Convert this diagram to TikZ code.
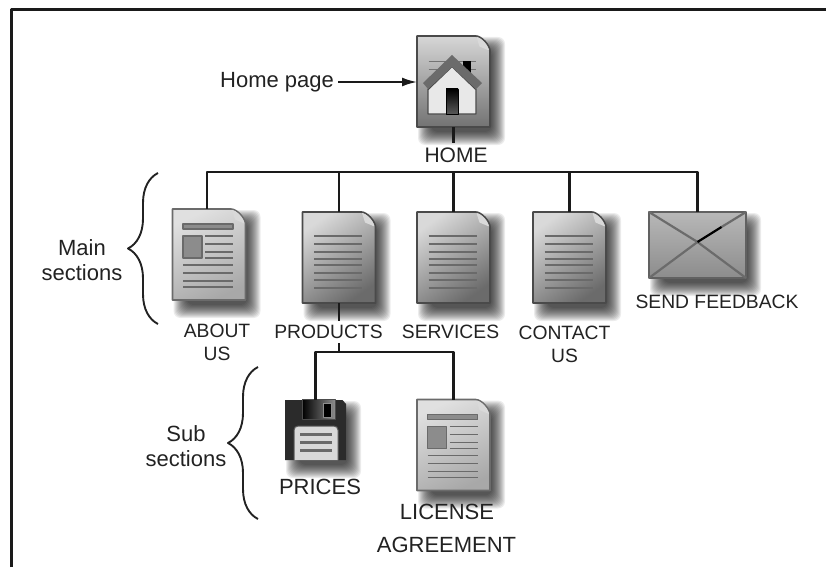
\documentclass[tikz,border=0pt]{standalone}
\usepackage{fontspec}
\setmainfont{Liberation Sans}
\usetikzlibrary{decorations.pathreplacing,arrows.meta}
\definecolor{ink}{HTML}{222222}
\definecolor{rule}{HTML}{1A1A1A}
\definecolor{edge}{HTML}{4A4A4A}
\definecolor{stripe}{HTML}{6A6A6A}

% outline of a sheet with a clipped corner, around (0,0)
\def\sheet{(-36.5,-45.5) -- (22,-45.5) .. controls (28,-45.5) and (36.5,-36) .. (36.5,-30) -- (36.5,45.5) -- (-36.5,45.5) -- cycle}
\def\softshadow#1#2{\foreach \g in {0,...,13}
    \fill[black,opacity=.075,rounded corners=7pt] (-#1+14-\g,-#2+14-\g) rectangle (#1+2+\g,#2+5+\g);}
\def\corner{\fill[white!85!black] (23,-44.5) .. controls (28,-44) and (35,-36) .. (35.5,-31) -- (26,-35) -- cycle;}

\begin{document}
\begin{tikzpicture}[x=1pt,y=-1pt,>={Latex[length=15pt,width=9pt]},line join=round]
    \tikzstyle{icon}=[rectangle,inner sep=0pt,outer sep=0pt]
    \tikzstyle{page}=[icon,minimum width=73pt,minimum height=91pt]
    \tikzstyle{plain sheet}=[draw=edge,line width=1.8pt,top color=white!85!black,middle color=white!62!black,bottom color=white!42!black,shading angle=35]
    \tikzstyle{light sheet}=[draw=white!42!black,line width=1.6pt,top color=white!88!black,bottom color=white!66!black,shading angle=25]
    \tikzstyle{home sheet}=[draw=edge,line width=1.8pt,top color=white!84!black,bottom color=white!45!black]
    \tikzstyle{stripe}=[draw=stripe,line width=1.5pt]
    \tikzstyle{label}=[text=ink,inner sep=4pt,font=\fontsize{19.3}{23}\selectfont,align=center]
    \tikzstyle{big label}=[label,font=\fontsize{22}{25.5}\selectfont]
    \tikzstyle{conn}=[draw=rule,line width=2.5pt]
    \tikzstyle{bracket}=[draw=ink,line width=1.9pt,decorate,decoration={brace,amplitude=30pt}]

    \useasboundingbox (0,0) rectangle (826,567);

    % Frame, open at the right and at the bottom
    \coordinate (F-1) at (11,567);
    \coordinate (F-2) at (11,10);
    \coordinate (F-3) at (826,10);
    \draw[conn,line width=3pt] (F-1) -- (F-2) -- (F-3);

    % Draw the icon nodes
    \node[page] (home) at (453.5,81.5) {};
    \node[page] (about) at (209,254.5) {};
    \node[page] (products) at (339,257.5) {};
    \node[page] (services) at (453.5,257.5) {};
    \node[page] (contact) at (569.5,257.5) {};
    \node[icon,minimum width=97pt,minimum height=66pt] (feedback) at (697.5,245) {};
    \node[icon,minimum width=61pt,minimum height=60pt] (prices) at (315.5,430) {};
    \node[page] (license) at (453.5,445) {};

    % Sheets with plain rows
    \foreach \name in {products,services,contact} {
        \begin{scope}[shift={(\name.center)}]
            \softshadow{36.5}{45.5}
            \path[plain sheet] \sheet;
            \corner
            \foreach \y in {-21.5,-13.5,-5.5,1.5,7.5,15.5,22.5,30.5}
                \draw[stripe] (-25,\y) -- (23,\y);
        \end{scope}
    }

    % Sheets with a picture and text
    \foreach \name in {about,license} {
        \begin{scope}[shift={(\name.center)}]
            \softshadow{36.5}{45.5}
            \path[light sheet] \sheet;
            \corner
            \draw[stripe,fill=white!55!black] (-26,-30.5) rectangle (24,-25.5);
            \draw[stripe,fill=white!55!black] (-26,-18.5) rectangle (-7,3.5);
            \foreach \y in {-18.5,-10.5,-2.5,3.5}
                \draw[stripe] (-4,\y) -- (24,\y);
            \foreach \y in {10.5,18.5,26.5,32.5}
                \draw[stripe] (-26,\y) -- (24,\y);
        \end{scope}
    }

    % Home icon
    \begin{scope}[shift={(home.center)}]
        \softshadow{36.5}{45.5}
        \path[home sheet] \sheet;
        \corner
        \foreach \y in {-19.5,-11.5}
            \draw[draw=white!45!black,line width=1pt] (-25,\y) -- (22,\y);
        \fill[black] (9.5,-20.5) rectangle (17.5,-8);
        \draw[edge,line width=1.4pt,fill=white!91!black] (-1.5,-15) -- (22.5,8) -- (22.5,32.5) -- (-25.5,32.5) -- (-25.5,8) -- cycle;
        \fill[white!42!black] (-1.5,-26.5) -- (28.5,1.5) -- (22.5,7.5) -- (-1.5,-14.5) -- (-25.5,7.5) -- (-30.5,1.5) -- cycle;
        \shade[top color=black,bottom color=white!35!black,draw=black,line width=.8pt] (-7.5,7.5) rectangle (4.5,32.5);
    \end{scope}

    % Envelope icon
    \begin{scope}[shift={(feedback.center)}]
        \softshadow{48.5}{33}
        \path[draw=white!38!black,line width=2pt,top color=white!72!black,bottom color=white!55!black] (-48.5,-33) rectangle (48.5,33);
        \foreach \x/\y in {-48.5/-33,-48.5/33,48.5/33}
            \draw[draw=white!42!black,line width=2.2pt] (\x,\y) -- (0,-3);
        \draw[draw=white!42!black,line width=2.2pt] (48.5,-33) -- (24,-18);
        \draw[draw=black,line width=2.2pt] (24,-18) -- (0,-3);
    \end{scope}

    % Disk icon
    \begin{scope}[shift={(prices.center)}]
        \softshadow{30.5}{30}
        \fill[white!17!black] (-30.5,-30) -- (27,-30) -- (30.5,-26) -- (30.5,30) -- (-30.5,30) -- cycle;
        \shade[left color=black,right color=white!55!black,draw=white!30!black,line width=1pt] (-13.5,-31) rectangle (19.5,-11);
        \draw[draw=white!55!black,fill=black,line width=.8pt] (7.5,-27) rectangle (15.5,-13);
        \draw[draw=white!35!black,fill=white!85!black,line width=1pt,rounded corners=4pt] (-21.5,30) -- (-21.5,-4) -- (22.5,-4) -- (22.5,30);
        \foreach \y in {4.5,12.5,20.5}
            \draw[draw=stripe,line width=2.2pt] (-15.5,\y) -- (16.5,\y);
    \end{scope}

    % Annotate the icons
    \node[label,font=\fontsize{21}{25}\selectfont] (homelab) at (456,155) {HOME};
    \node[big label] (homepage) at (277,82) {Home page};
    \node[label] (aboutlab) at (217,342.5) {ABOUT\\US};
    \node[label] (productslab) at (328.5,332) {PRODUCTS};
    \node[label] (serviceslab) at (450.5,332) {SERVICES};
    \node[label] (contactlab) at (564.5,344) {CONTACT\\US};
    \node[label] (feedbacklab) at (717,302) {SEND FEEDBACK};
    \node[big label] (priceslab) at (320,487) {PRICES};
    \node[big label,text height=14pt] (licenselab) at (447,513) {LICENSE};
    \node[big label] (agreementlab) at (446.5,545) {AGREEMENT};
    \node[big label] (mainlab) at (82,260) {Main\\sections};
    \node[big label] (sublab) at (186,446) {Sub\\sections};

    % Connect the home page with the main sections
    \coordinate (J-home) at (453.5,172);
    \draw[conn] (home.south) -- (home.south |- homelab.north);
    \draw[conn] (J-home) -| ([xshift=-2pt]about.north);
    \foreach \name in {products,services,contact,feedback}
        \draw[conn] (J-home) -| (\name.north);

    % Connect the products with the sub sections
    \coordinate (J-products) at (339,352);
    \draw[conn] (products.south) -- (products.south |- productslab.north);
    \draw[conn] (products.south |- productslab.south) -- (J-products);
    \foreach \name in {prices,license}
        \draw[conn] (J-products) -| (\name.north);

    \draw[->,conn,line width=2pt] (homepage) -- (home.west |- homepage);

    % Braces beside the labels
    \coordinate (M-1) at (158,324);
    \coordinate (M-2) at (158,173);
    \coordinate (S-1) at (258,519);
    \coordinate (S-2) at (258,367);
    \draw[bracket] (M-1) -- (M-2);
    \draw[bracket] (S-1) -- (S-2);
\end{tikzpicture}
\end{document}
